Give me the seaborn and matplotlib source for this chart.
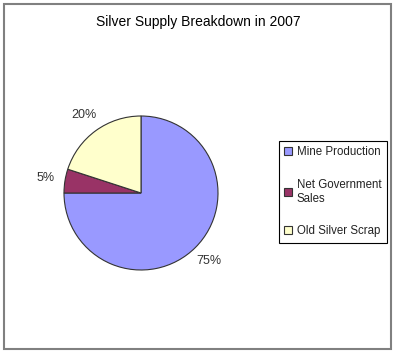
import matplotlib
matplotlib.use("Agg")
import matplotlib.pyplot as plt
import seaborn as sns
from matplotlib.patches import Rectangle

# supply sources and their share of total supply (%)
sources = ["Mine Production", "Net Government\nSales", "Old Silver Scrap"]
shares = [75, 5, 20]
colours = ["#9999FF", "#993366", "#FFFFCC"]

W, H = 396, 353

sns.set_theme(style="white")
plt.rcParams["font.family"] = ["Liberation Sans", "DejaVu Sans"]

fig = plt.figure(figsize=(W / 100, H / 100), dpi=100)
fig.patches.append(Rectangle((4 / W, 4 / H), 387 / W, 345 / H,
                             transform=fig.transFigure, fill=False,
                             edgecolor="#808080", linewidth=1.5))
fig.text(198 / W, 1 - 22 / H, "Silver Supply Breakdown in 2007",
         ha="center", va="center", fontsize=10, color="black")

# pie: centre (141, 193) px, radius 77 px
ax = fig.add_axes([(141 - 77) / W, (H - 193 - 77) / H, 154 / W, 154 / H])
wedges, texts, autotexts = ax.pie(
    shares,
    colors=colours,
    startangle=90,
    counterclock=False,
    autopct="%1.0f%%",
    pctdistance=1.25,
    wedgeprops=dict(edgecolor="#333333", linewidth=0.8),
    textprops=dict(fontsize=9, color="#333333"),
)
ax.set_xlim(-1, 1)
ax.set_ylim(-1, 1)

leg = fig.legend(
    wedges, sources,
    loc="upper left",
    bbox_to_anchor=(279 / W, 1 - 141 / H),
    fontsize=8.3,
    frameon=True,
    fancybox=False,
    framealpha=1,
    edgecolor="black",
    handlelength=0.7,
    handleheight=0.7,
    handletextpad=0.4,
    labelspacing=1.8,
    borderpad=0.45,
    borderaxespad=0,
)
leg.get_frame().set_linewidth(0.8)
for t in leg.get_texts():
    t.set_color("#222222")

fig.savefig("out.png", dpi=100)
